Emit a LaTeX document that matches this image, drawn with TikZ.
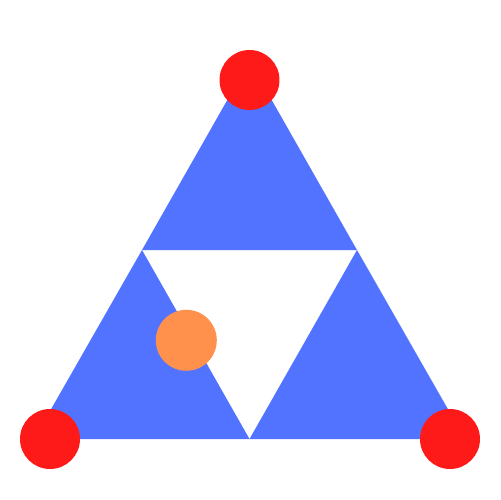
\documentclass[tikz,border=0pt]{standalone}
\begin{document}
\begin{tikzpicture}[x=0.02cm,y=-0.02cm]
\definecolor{triblue}{HTML}{5273FF}
\definecolor{dotred}{HTML}{FF1A1A}
\definecolor{dotorange}{HTML}{FF914D}
\tikzset{
  tri/.style={fill=triblue, draw=none},
  reddot/.style={circle, fill=dotred, draw=none, minimum size=1.2cm, inner sep=0pt},
  orangedot/.style={circle, fill=dotorange, draw=none, minimum size=1.22cm, inner sep=0pt}
}
\useasboundingbox (0,0) rectangle (500,500);
\fill[white] (0,0) rectangle (500,500);
\coordinate (A) at (249.5,61);
\coordinate (B) at (34,439);
\coordinate (C) at (465,439);
\coordinate (AB) at (142,250);
\coordinate (AC) at (357,250);
\coordinate (BC) at (249.5,439);
\fill[tri] (A) -- (AB) -- (AC) -- cycle;
\fill[tri] (AB) -- (B) -- (BC) -- cycle;
\fill[tri] (AC) -- (BC) -- (C) -- cycle;
\node[reddot] (top) at (249.5,80) {};
\node[reddot] (left) at (50,439) {};
\node[reddot] (right) at (450,439) {};
\node[orangedot] (pt) at (186.3,340.3) {};
\end{tikzpicture}
\end{document}
